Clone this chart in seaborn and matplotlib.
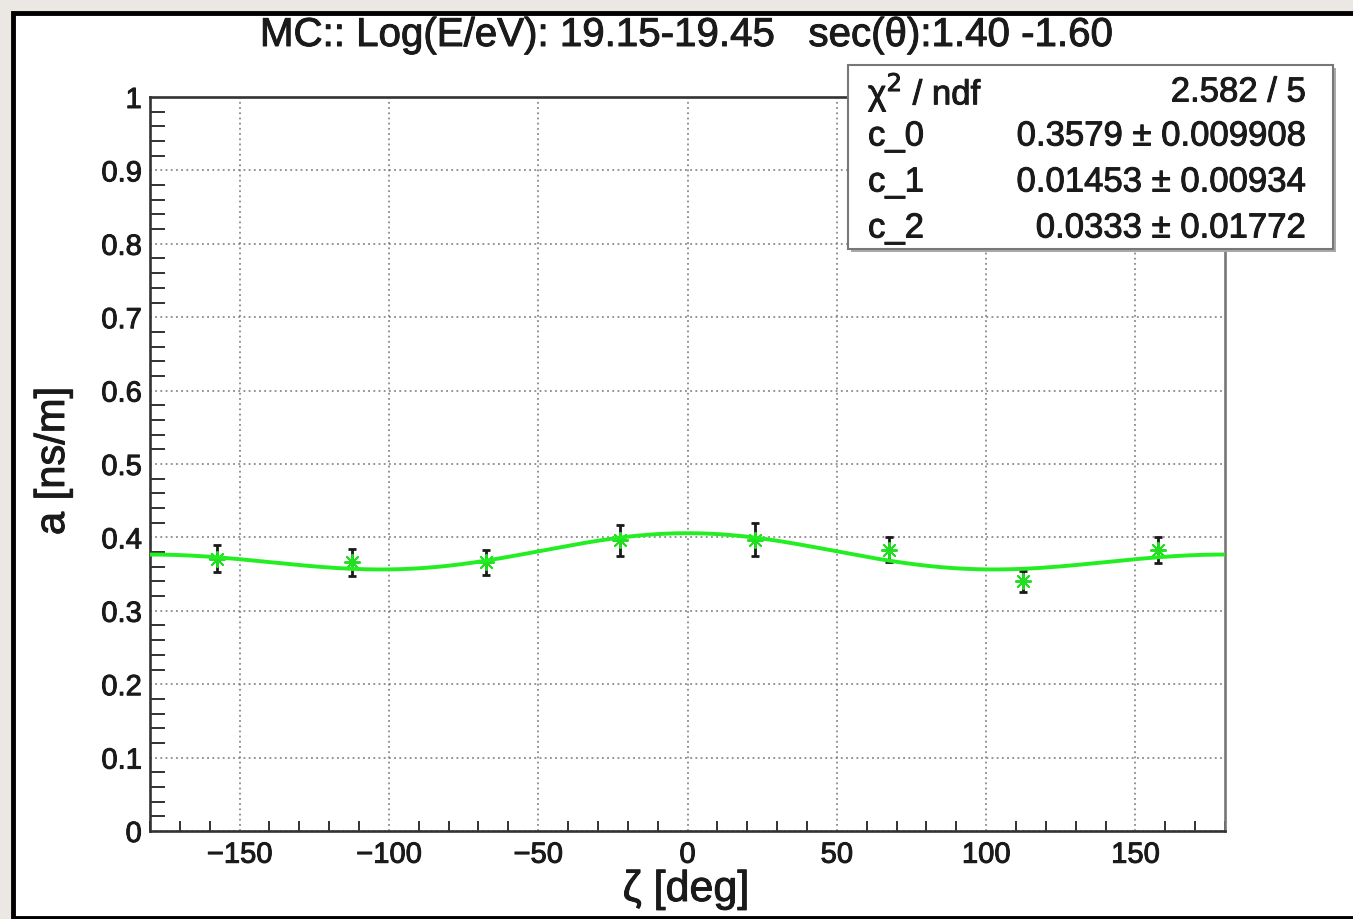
import numpy as np
import pandas as pd
import matplotlib
matplotlib.use("Agg")
import matplotlib.pyplot as plt
import matplotlib.patheffects as pe
from matplotlib.patches import Rectangle
from matplotlib.ticker import MultipleLocator, FixedLocator
import seaborn as sns

# Binned measurements of a versus zeta
zeta_deg = [-157.5, -112.5, -67.5, -22.5, 22.5, 67.5, 112.5, 157.5]
a_values = [0.371, 0.366, 0.366, 0.396, 0.397, 0.383, 0.340, 0.383]
a_errors = [0.018, 0.018, 0.017, 0.021, 0.022, 0.017, 0.014, 0.018]

# Fit parameters: a(zeta) = c_0 + c_1 cos(zeta) + c_2 cos^2(zeta)
fit_params = {"c_0": 0.3579, "c_1": 0.01453, "c_2": 0.0333}
fit_errors = {"c_0": 0.009908, "c_1": 0.00934, "c_2": 0.01772}
chi2_text = "2.582 / 5"

title_text = "MC:: Log(E/eV): 19.15-19.45   sec(θ):1.40 -1.60"
x_label = "ζ [deg]"
y_label = "a [ns/m]"
x_ticks = [-150, -100, -50, 0, 50, 100, 150]
y_ticks = [0, 0.1, 0.2, 0.3, 0.4, 0.5, 0.6, 0.7, 0.8, 0.9, 1]
y_tick_labels = ["0", "0.1", "0.2", "0.3", "0.4", "0.5", "0.6", "0.7", "0.8", "0.9", "1"]

sns.set_theme(style="white")
plt.rcParams["font.family"] = ["Liberation Sans", "DejaVu Sans"]

TEXT_COLOR = "#1a1a1a"
heavy = [pe.withStroke(linewidth=0.7, foreground=TEXT_COLOR)]

W, H = 1353, 920
fig = plt.figure(figsize=(W / 100, H / 100), dpi=100)
fig.patch.set_facecolor("#ebe7e3")

# canvas frame
fig.add_artist(Rectangle((13 / W, 1 / H), (W + 20) / W, (H - 15) / H,
                         transform=fig.transFigure, facecolor="white",
                         edgecolor="black", linewidth=3.5, zorder=0))

ax = fig.add_axes([150 / W, 88 / H, 1075 / W, 734 / H])
ax.set_facecolor("none")

zz = np.linspace(-180, 180, 721)
cz = np.cos(np.radians(zz))
fit_df = pd.DataFrame({
    "zeta": zz,
    "a": fit_params["c_0"] + fit_params["c_1"] * cz + fit_params["c_2"] * cz ** 2,
})
data_df = pd.DataFrame({"zeta": zeta_deg, "a": a_values, "err": a_errors})

ax.errorbar(data_df["zeta"], data_df["a"], yerr=data_df["err"], fmt="none",
            ecolor=TEXT_COLOR, elinewidth=2.0, capsize=3.2, capthick=2.0, zorder=3)
sns.scatterplot(data=data_df, x="zeta", y="a", ax=ax, marker=(8, 2, 0), s=120,
                color="#22dd22", edgecolor="#22dd22", linewidth=1.4, zorder=4)
sns.lineplot(data=fit_df, x="zeta", y="a", ax=ax, color="#22ee22",
             linewidth=2.8, zorder=5)

ax.set_xlim(-180, 180)
ax.set_ylim(0, 1)
ax.xaxis.set_major_locator(FixedLocator(x_ticks))
ax.xaxis.set_minor_locator(MultipleLocator(10))
ax.set_yticks(y_ticks)
ax.set_yticklabels(y_tick_labels)
ax.yaxis.set_minor_locator(MultipleLocator(0.02))

ax.tick_params(axis="both", which="both", direction="in", colors="#222222",
               labelsize=21, labelcolor=TEXT_COLOR)
ax.tick_params(axis="x", which="major", length=15, width=1.5, pad=7)
ax.tick_params(axis="x", which="minor", length=7, width=1.3, bottom=True)
ax.tick_params(axis="y", which="major", length=21, width=1.5, pad=6)
ax.tick_params(axis="y", which="minor", length=11, width=1.3, left=True)
for lbl in ax.get_xticklabels() + ax.get_yticklabels():
    lbl.set_path_effects(heavy)

ax.grid(True, which="major", color="#777777", linestyle=(0, (1.2, 2.2)),
        linewidth=1.1)
for side, sp in ax.spines.items():
    sp.set_visible(True)
    sp.set_linewidth(1.9)
    sp.set_color("#333333" if side in ("left", "bottom", "top") else "#777777")

ax.set_xlabel("")
ax.set_ylabel("")
fig.text(686 / W, 1 - 891 / H, x_label, ha="center", va="center",
         fontsize=31, color=TEXT_COLOR, path_effects=heavy)
fig.text(53 / W, 1 - 462 / H, y_label, ha="center", va="center",
         rotation=90, fontsize=30, color=TEXT_COLOR, path_effects=heavy)
fig.text(686 / W, 1 - 36 / H, title_text, ha="center", va="center",
         fontsize=29, color=TEXT_COLOR, path_effects=heavy)

# statistics box
bx0, bx1, by0, by1 = 848, 1333, 66, 250
fig.add_artist(Rectangle(((bx0 + 3) / W, 1 - (by1 + 3) / H), (bx1 - bx0) / W,
                         (by1 - by0) / H, transform=fig.transFigure,
                         facecolor="#aaaaaa", edgecolor="none", zorder=6))
fig.add_artist(Rectangle((bx0 / W, 1 - by1 / H), (bx1 - bx0) / W,
                         (by1 - by0) / H, transform=fig.transFigure,
                         facecolor="white", edgecolor="#777777",
                         linewidth=1.5, zorder=7))
rows = [("χ$^2$ / ndf", chi2_text)]
for k in ("c_0", "c_1", "c_2"):
    v, e = fit_params[k], fit_errors[k]
    rows.append((k, f"{v:g} ± {e:g}"))
row_y = [93, 137, 183, 229]
for (lab, val), yy in zip(rows, row_y):
    fig.text(868 / W, 1 - yy / H, lab, ha="left", va="center", fontsize=25,
             color=TEXT_COLOR, zorder=8, path_effects=heavy)
    fig.text(1306 / W, 1 - yy / H, val, ha="right", va="center", fontsize=25,
             color=TEXT_COLOR, zorder=8, path_effects=heavy)

fig.savefig("out.png", dpi=100, facecolor=fig.get_facecolor())
